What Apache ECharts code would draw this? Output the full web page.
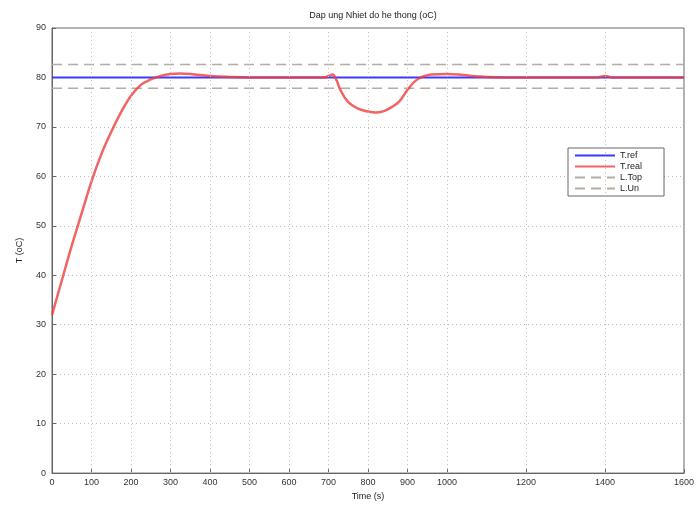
<!DOCTYPE html>
<html>
<head>
<meta charset="utf-8">
<script src="https://cdn.jsdelivr.net/npm/echarts@6/dist/echarts.min.js"></script>
<style>
  html, body { margin: 0; padding: 0; background: #fff; }
  #chart { width: 697px; height: 506px; }
</style>
</head>
<body>
<div id="chart"></div>
<script>
const timeReal = [0, 25, 50, 75, 100, 125, 150, 175, 200, 225, 250, 275, 300, 325, 350, 400, 450, 500,
  600, 690, 700, 710, 720, 730, 750, 775, 800, 820, 840, 860, 880, 900, 920, 940, 960, 1000,
  1040, 1080, 1150, 1300, 1380, 1400, 1420, 1500, 1600];
const tReal = [32, 39, 46, 52.5, 59, 64.5, 69, 73, 76.3, 78.5, 79.6, 80.3, 80.7, 80.8, 80.7, 80.3, 80.1, 80,
  80, 80, 80.3, 80.6, 79.5, 77.5, 75, 73.7, 73.1, 72.9, 73.2, 74, 75.2, 77.5, 79.3, 80.2, 80.6, 80.7,
  80.5, 80.2, 80, 80, 80, 80.3, 80, 80, 80];
const tRef = 80;
const limitTop = 82.6;
const limitUn = 77.8;
const xRange = [0, 1600];
const xTicks = [0, 100, 200, 300, 400, 500, 600, 700, 800, 900, 1000, 1200, 1400, 1600];

const font = 'Liberation Sans, Arial, sans-serif';
const chart = echarts.init(document.getElementById('chart'));

const flat = v => xRange.map(t => [t, v]);

chart.setOption({
  animation: false,
  title: {
    text: 'Dap ung Nhiet do he thong (oC)',
    left: 368, top: 6,
    textAlign: 'center',
    textStyle: { fontFamily: font, fontSize: 9, fontWeight: 'normal', color: '#222' }
  },
  grid: {
    left: 52, right: 13, top: 28, bottom: 31,
    show: true, borderColor: '#666', borderWidth: 1
  },
  legend: {
    orient: 'vertical',
    left: 568, top: 148,
    itemWidth: 40, itemHeight: 10, itemGap: 2,
    padding: [3, 22, 3, 6],
    borderColor: '#666', borderWidth: 1, backgroundColor: '#fff',
    itemStyle: { opacity: 0 },
    textStyle: { fontFamily: font, fontSize: 9, color: '#222' },
    data: ['T.ref', 'T.real', 'L.Top', 'L.Un']
  },
  xAxis: {
    type: 'value', min: xRange[0], max: xRange[1],
    name: 'Time (s)', nameLocation: 'middle', nameGap: 18,
    nameTextStyle: { fontFamily: font, fontSize: 9, color: '#222' },
    axisLine: { lineStyle: { color: '#666' } },
    axisTick: { inside: true, length: 4, customValues: xTicks, lineStyle: { color: '#666' } },
    axisLabel: { customValues: xTicks, formatter: v => String(v), fontFamily: font, fontSize: 9, color: '#333', margin: 5 },
    splitLine: { show: false }
  },
  yAxis: {
    type: 'value', min: 0, max: 90, interval: 10,
    name: 'T (oC)', nameLocation: 'middle', nameGap: 28,
    nameTextStyle: { fontFamily: font, fontSize: 9, color: '#222' },
    axisLine: { show: true, lineStyle: { color: '#666' } },
    axisTick: { show: true, inside: true, length: 4, lineStyle: { color: '#666' } },
    axisLabel: { fontFamily: font, fontSize: 9, color: '#333', margin: 6 },
    splitLine: { lineStyle: { color: '#bbb', type: [1, 3] } }
  },
  series: [
    {
      name: 'grid', type: 'line', data: [], silent: true,
      markLine: {
        silent: true, symbol: 'none', label: { show: false },
        lineStyle: { color: '#bbb', type: [1, 3], width: 1 },
        data: xTicks.slice(1, -1).map(t => ({ xAxis: t }))
      }
    },
    {
      name: 'L.Top', type: 'line', data: flat(limitTop), symbol: 'none',
      lineStyle: { color: '#b5aca4', width: 1.5, type: [10, 6] }, itemStyle: { color: '#b5aca4' }
    },
    {
      name: 'L.Un', type: 'line', data: flat(limitUn), symbol: 'none',
      lineStyle: { color: '#b5aca4', width: 1.5, type: [10, 6] }, itemStyle: { color: '#b5aca4' }
    },
    {
      name: 'T.ref', type: 'line', data: flat(tRef), symbol: 'none',
      lineStyle: { color: '#3a3aff', width: 2 }, itemStyle: { color: '#3a3aff' }
    },
    {
      name: 'T.real', type: 'line', symbol: 'none', smooth: 0.4,
      data: timeReal.map((t, i) => [t, tReal[i]]),
      lineStyle: { color: '#f03c3c', width: 2.5, opacity: 0.8 }, itemStyle: { color: '#f03c3c' }
    }
  ]
});
</script>
</body>
</html>
